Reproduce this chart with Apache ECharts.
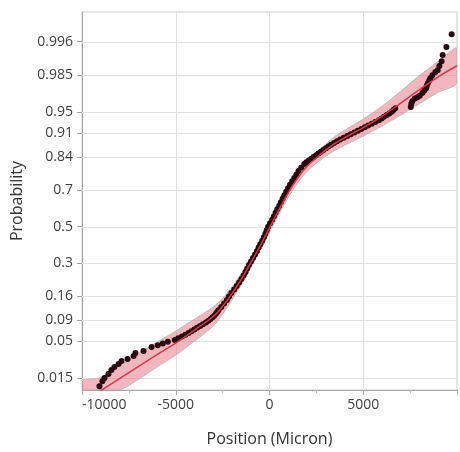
<!DOCTYPE html>
<html>
<head>
<meta charset="utf-8">
<script src="https://cdn.jsdelivr.net/npm/echarts@6/dist/echarts.min.js"></script>
<style>
  html, body { margin: 0; padding: 0; background: #ffffff; }
  #chart { width: 460px; height: 452px; }
</style>
</head>
<body>
<div id="chart"></div>
<script>
// Probability axis tick labels and x-axis label values
const probabilityTicks = [0.015, 0.05, 0.09, 0.16, 0.3, 0.5, 0.7, 0.84, 0.91, 0.95, 0.985, 0.996];
const positionTicks = [-10000, -5000, 0, 5000];

// Measured positions (micron) and their plotting probabilities
const positionMicron = [
  -9070, -8910, -8800, -8590, -8430, -8270, -8050, -7890, -7570, -7250, -7150, -6720,
  -6290, -5960, -5690, -5420, -5050, -4870, -4670, -4490, -4320, -4170, -4010, -3860,
  -3700, -3550, -3390, -3260, -3140, -3040, -2950, -2860, -2790, -2720,
  -2570, -2420, -2270, -2160, -2030, -1880, -1750, -1620, -1500, -1380, -1280, -1190,
  -1100, -990, -880, -770, -670, -580, -490, -390, -300, -220, -150, -75,
  30, 140, 235, 325, 415, 515, 605, 700, 790, 890, 990, 1095, 1210, 1320, 1435, 1545,
  1695, 1855, 1963, 2095, 2225, 2350,
  2485, 2610, 2740, 2870, 3010, 3145, 3285, 3440, 3600, 3775, 3960, 4150, 4330, 4525,
  4705, 4895, 5080, 5260, 5455, 5635, 5830, 5975, 6105, 6250, 6390, 6520, 6610, 6705,
  7535, 7560, 7615, 7750, 7885, 8015, 8150, 8255, 8350, 8390, 8445, 8525, 8580, 8685,
  8845, 8970, 9060, 9180, 9235, 9435, 9715
];
const positionProb = [
  0.0111, 0.0134, 0.0150, 0.0173, 0.0199, 0.0221, 0.0245, 0.0270, 0.0289, 0.0318, 0.0350, 0.0373,
  0.0423, 0.0446, 0.0470, 0.0495, 0.0521, 0.0548, 0.0576, 0.0606, 0.0636, 0.0668, 0.0701, 0.0735,
  0.0771, 0.0808, 0.0846, 0.0885, 0.0926, 0.0968, 0.1011, 0.1057, 0.1103, 0.1151,
  0.1251, 0.1357, 0.1469, 0.1587, 0.1711, 0.1841, 0.1977, 0.2119, 0.2266, 0.2420, 0.2579, 0.2743,
  0.2912, 0.3085, 0.3264, 0.3446, 0.3632, 0.3821, 0.4013, 0.4207, 0.4404, 0.4602, 0.4801, 0.5000,
  0.5199, 0.5398, 0.5596, 0.5793, 0.5987, 0.6179, 0.6368, 0.6554, 0.6736, 0.6915, 0.7088, 0.7257, 0.7422, 0.7580, 0.7734, 0.7881,
  0.8023, 0.8159, 0.8225, 0.8289, 0.8352, 0.8413,
  0.8473, 0.8531, 0.8588, 0.8643, 0.8697, 0.8749, 0.8800, 0.8849, 0.8897, 0.8944, 0.8989, 0.9032, 0.9074, 0.9115,
  0.9155, 0.9192, 0.9229, 0.9265, 0.9299, 0.9332, 0.9364, 0.9394, 0.9424, 0.9452, 0.9479, 0.9505, 0.9530, 0.9554,
  0.9568, 0.9606, 0.9641, 0.9669, 0.9684, 0.9699, 0.9723, 0.9745, 0.9765, 0.9784, 0.9802, 0.9822, 0.9834, 0.9851,
  0.9867, 0.9876, 0.9894, 0.9912, 0.9931, 0.9950, 0.9971
];

// Fitted distribution: positions, fitted CDF and its confidence limits
const curveMicron = [-10000, -9000, -8000, -7000, -6000, -5000, -4000, -3000, -2500, -2000, -1500, -1000, -500, 0,
  500, 1000, 1500, 2000, 2500, 3000, 3500, 4000, 5000, 6000, 7000, 8000, 9000, 10000];
const fitProb = [0.0059, 0.0094, 0.0147, 0.0224, 0.0334, 0.0476, 0.0691, 0.0989, 0.1270, 0.1688, 0.2263, 0.3019, 0.3909, 0.4932,
  0.5952, 0.6865, 0.7574, 0.8067, 0.8386, 0.8639, 0.8841, 0.8989, 0.9223, 0.9436, 0.9618, 0.9753, 0.9842, 0.9895];
const bandUpperProb = [0.0137, 0.0153, 0.0232, 0.0344, 0.0490, 0.0671, 0.0926, 0.1249, 0.1523, 0.1933, 0.2509, 0.3275, 0.4161, 0.5187,
  0.6198, 0.7092, 0.7793, 0.8258, 0.8572, 0.8817, 0.9025, 0.9164, 0.9386, 0.9580, 0.9740, 0.9849, 0.9911, 0.9948];
const bandLowerProb = [0.0045, 0.0056, 0.0091, 0.0142, 0.0221, 0.0328, 0.0505, 0.0772, 0.1046, 0.1464, 0.2033, 0.2773, 0.3666, 0.4674,
  0.5698, 0.6634, 0.7346, 0.7864, 0.8188, 0.8442, 0.8634, 0.8785, 0.9030, 0.9255, 0.9452, 0.9612, 0.9730, 0.9802];

// Probability axis range
const probMin = 0.0096;
const probMax = 0.99896;

// Normal quantile (Acklam's rational approximation) used as the probability-axis scale
function probit(p) {
  const a = [-3.969683028665376e+01, 2.209460984245205e+02, -2.759285104469687e+02, 1.383577518672690e+02, -3.066479806614716e+01, 2.506628277459239e+00];
  const b = [-5.447609879822406e+01, 1.615858368580409e+02, -1.556989798598866e+02, 6.680131188771972e+01, -1.328068155288572e+01];
  const c = [-7.784894002430293e-03, -3.223964580411365e-01, -2.400758277161838e+00, -2.549732539343734e+00, 4.374664141464968e+00, 2.938163982698783e+00];
  const d = [7.784695709041462e-03, 3.224671290700398e-01, 2.445134137142996e+00, 3.754408661907416e+00];
  const pl = 0.02425;
  if (p < pl) {
    const q = Math.sqrt(-2 * Math.log(p));
    return (((((c[0] * q + c[1]) * q + c[2]) * q + c[3]) * q + c[4]) * q + c[5]) /
      ((((d[0] * q + d[1]) * q + d[2]) * q + d[3]) * q + 1);
  }
  if (p > 1 - pl) {
    const q = Math.sqrt(-2 * Math.log(1 - p));
    return -(((((c[0] * q + c[1]) * q + c[2]) * q + c[3]) * q + c[4]) * q + c[5]) /
      ((((d[0] * q + d[1]) * q + d[2]) * q + d[3]) * q + 1);
  }
  const q = p - 0.5, r = q * q;
  return (((((a[0] * r + a[1]) * r + a[2]) * r + a[3]) * r + a[4]) * r + a[5]) * q /
    (((((b[0] * r + b[1]) * r + b[2]) * r + b[3]) * r + b[4]) * r + 1);
}

const tickZ = probabilityTicks.map(probit);
const FONT = '"Open Sans", "Noto Sans", sans-serif';
const axisGray = '#a9a9a9';
const gridGray = '#e2e2e2';

function probLabel(v) {
  let best = 0;
  for (let i = 1; i < tickZ.length; i++) {
    if (Math.abs(tickZ[i] - v) < Math.abs(tickZ[best] - v)) best = i;
  }
  return String(probabilityTicks[best]);
}

const chart = echarts.init(document.getElementById('chart'), null, { renderer: 'canvas' });

chart.setOption({
  animation: false,
  backgroundColor: '#ffffff',
  grid: {
    left: 82, right: 3, top: 12, bottom: 62,
    containLabel: false,
    outerBoundsMode: 'none',
    show: true,
    borderColor: '#cdcdcd',
    borderWidth: 1
  },
  xAxis: {
    type: 'value',
    min: -10000,
    max: 10000,
    interval: 5000,
    axisLine: { show: true, onZero: false, lineStyle: { color: axisGray, width: 1 } },
    axisTick: { show: true, length: 5, lineStyle: { color: axisGray } },
    minorTick: { show: true, splitNumber: 2, length: 3, lineStyle: { color: '#bdbdbd' } },
    splitLine: { show: true, lineStyle: { color: gridGray, width: 1 } },
    axisLabel: {
      color: '#404040', fontSize: 14, fontFamily: FONT, margin: 8,
      showMaxLabel: false, alignMinLabel: 'left',
      formatter: v => (positionTicks.indexOf(v) >= 0 ? String(v) : '')
    },
    name: 'Position (Micron)',
    nameLocation: 'middle',
    nameGap: 41,
    nameTextStyle: { color: '#333333', fontSize: 16, fontFamily: FONT }
  },
  yAxis: {
    type: 'value',
    min: probit(probMin),
    max: probit(probMax),
    axisLine: { show: true, onZero: false, lineStyle: { color: axisGray, width: 1 } },
    axisTick: { show: true, length: 5, customValues: tickZ, lineStyle: { color: axisGray } },
    splitLine: { show: false },
    axisLabel: {
      customValues: tickZ,
      color: '#404040', fontSize: 14, fontFamily: FONT, margin: 9,
      formatter: probLabel
    },
    name: 'Probability',
    nameLocation: 'middle',
    nameGap: 57,
    nameTextStyle: { color: '#333333', fontSize: 16, fontFamily: FONT }
  },
  series: [
    {
      // horizontal grid lines at the probability ticks
      type: 'custom',
      z: 1,
      silent: true,
      data: tickZ,
      renderItem: (params, api) => {
        const cs = params.coordSys;
        const y = Math.round(api.coord([0, api.value(0)])[1]) + 0.5;
        return {
          type: 'line',
          shape: { x1: cs.x, y1: y, x2: cs.x + cs.width, y2: y },
          style: { stroke: gridGray, lineWidth: 1 }
        };
      }
    },
    {
      // confidence band of the fitted CDF
      type: 'custom',
      z: 2,
      silent: true,
      clip: true,
      data: [0],
      renderItem: (params, api) => {
        const pts = [];
        curveMicron.forEach((x, i) => pts.push(api.coord([x, probit(bandUpperProb[i])])));
        for (let i = curveMicron.length - 1; i >= 0; i--) {
          pts.push(api.coord([curveMicron[i], probit(bandLowerProb[i])]));
        }
        const cs = params.coordSys;
        const clipped = echarts.graphic.clipPointsByRect(pts, { x: cs.x, y: cs.y, width: cs.width, height: cs.height });
        return {
          type: 'polygon',
          shape: { points: clipped, smooth: 0.25 },
          style: { fill: 'rgba(228,110,125,0.5)', stroke: '#bdbdbd', lineWidth: 1 }
        };
      }
    },
    {
      type: 'scatter',
      z: 3,
      silent: true,
      symbol: 'circle',
      symbolSize: 6,
      itemStyle: { color: '#2a0910', opacity: 1 },
      data: positionMicron.map((x, i) => [x, probit(positionProb[i])])
    },
    {
      type: 'line',
      z: 4,
      silent: true,
      showSymbol: false,
      smooth: 0.35,
      lineStyle: { color: '#d23a4b', width: 1.5 },
      data: curveMicron.map((x, i) => [x, probit(fitProb[i])])
    }
  ]
});
</script>
</body>
</html>
